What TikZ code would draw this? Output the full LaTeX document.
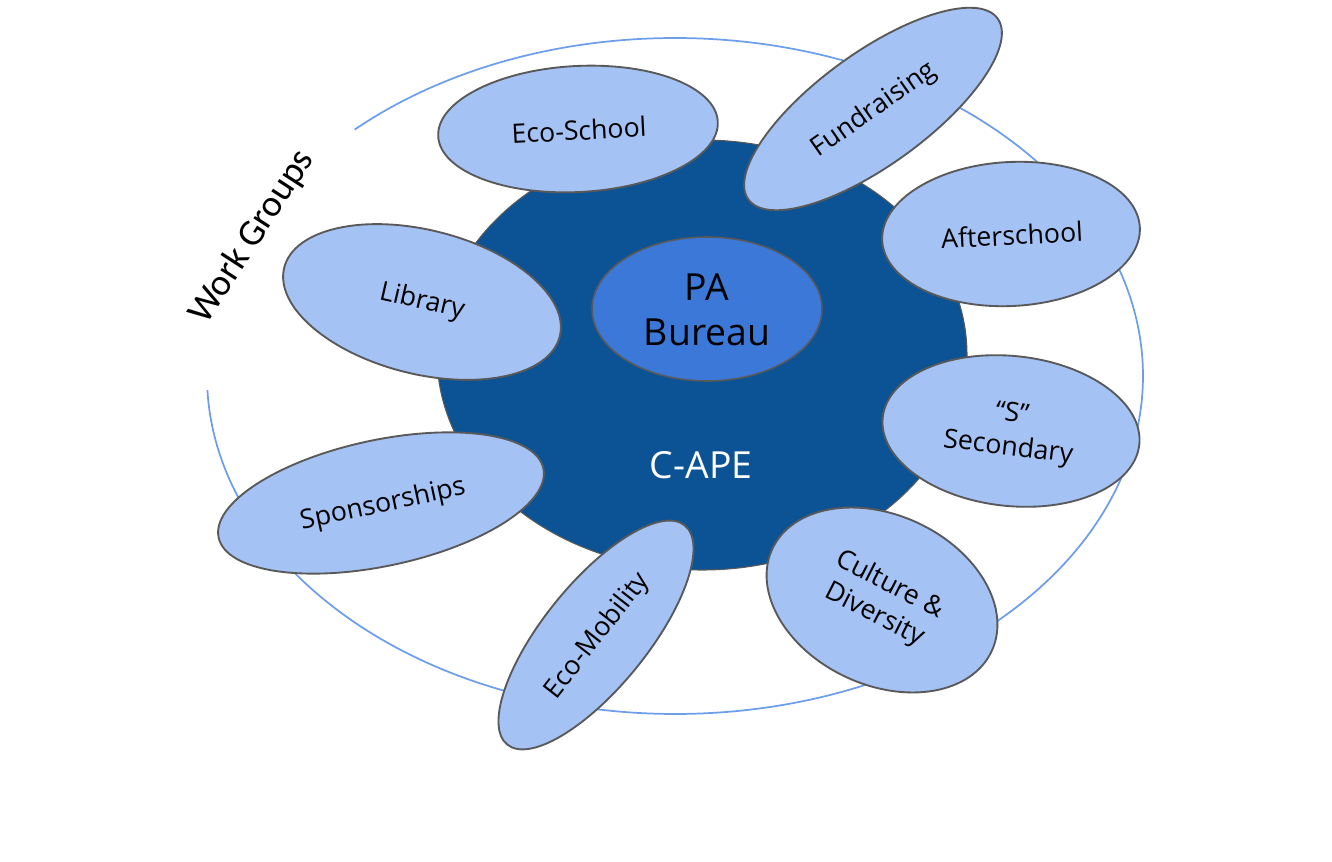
\documentclass[tikz,border=0pt]{standalone}
\usepackage{fontspec}
\setmainfont{Open Sans}
\newfontfamily\wgfont{Carlito}
\usetikzlibrary{shapes.geometric}
\definecolor{arcblue}{HTML}{6D9EEB}
\definecolor{capeblue}{HTML}{0B5394}
\definecolor{pablue}{HTML}{3C78D8}
\definecolor{wgfill}{HTML}{A4C2F4}
\definecolor{edgegray}{HTML}{595959}
\begin{document}
\begin{tikzpicture}[x=0.75pt,y=-0.75pt,
  wg/.style n args={3}{ellipse, draw=edgegray, line width=1.4pt, fill=wgfill, inner sep=0pt,
    minimum width={#1*1.5pt}, minimum height={#2*1.5pt}, rotate=#3},
  lab/.style={font=\fontsize{20}{25}\selectfont, align=center, text=black, inner sep=0pt},
  big/.style={font=\fontsize{28}{34}\selectfont, align=center, inner sep=0pt},
]
\useasboundingbox (0,0) rectangle (1332,862);
\coordinate (oc) at (675,376);
\draw[arcblue, line width=1.3pt] (oc) ++(226.8:468 and 338)
  arc[start angle=226.8, end angle=537.6, x radius=468, y radius=338];
\node[ellipse, draw=edgegray, line width=0.8pt, fill=capeblue, inner sep=0pt,
  minimum width=397.5pt, minimum height=322.5pt] (cape) at (702,355) {};
\node[ellipse, draw=edgegray, line width=1.2pt, fill=pablue, inner sep=0pt,
  minimum width=172.5pt, minimum height=108pt] (pa) at (707,309) {};
\node[big, text=black] (patext) at (707,310) {PA\\Bureau};
\node[big, text=white] (capetext) at (701,465) {C-APE};
\node[wg={140}{63}{3}] (ecos) at (578,129) {};
\node[wg={154}{56}{36}] (fund) at (873,109) {};
\node[wg={129}{72}{3}] (after) at (1011,234) {};
\node[wg={142}{72}{-14}] (lib) at (422,302) {};
\node[wg={129}{75}{-6}] (sec) at (1011,431) {};
\node[wg={166}{63}{12}] (spon) at (381,503) {};
\node[wg={141}{52}{51}] (ecom) at (596,635) {};
\node[wg={121}{85}{-25}] (cult) at (882,600) {};
\node[lab, rotate=3] (ecost) at (579,130) {Eco-School};
\node[lab, rotate=35] (fundt) at (874,110) {Fundraising};
\node[lab, rotate=3] (aftert) at (1012,235) {Afterschool};
\node[lab, rotate=-13] (libt) at (422,302) {Library};
\node[lab, rotate=-7] (sect) at (1010,432) {“S”\\Secondary};
\node[lab, rotate=12] (spont) at (383,505) {Sponsorships};
\node[lab, rotate=52] (ecomt) at (598,636) {Eco-Mobility};
\node[lab, rotate=-27] (cultt) at (882,600) {Culture \&\\Diversity};
\node[font=\wgfont\fontsize{28}{34}\selectfont, rotate=57, inner sep=0pt] (wgt) at (252,237) {Work Groups};
\end{tikzpicture}
\end{document}
